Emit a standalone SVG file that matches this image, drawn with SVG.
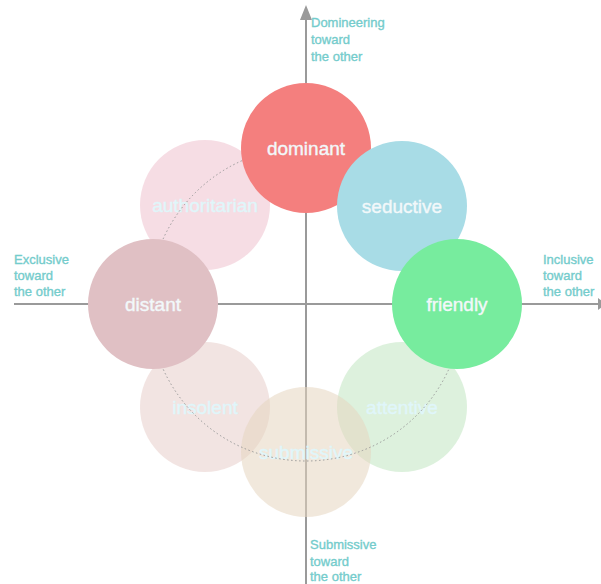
<svg xmlns="http://www.w3.org/2000/svg" width="601" height="584" viewBox="0 0 601 584">
<style>
.axis{stroke:#9a9a9a;stroke-width:2;fill:none}
.lbl{font-family:"Liberation Sans",Arial,sans-serif;font-size:13px;fill:#74cccc;stroke:#74cccc;stroke-width:0.35}
.node{font-family:"Liberation Sans",Arial,sans-serif;font-size:19px;text-anchor:middle;stroke-width:0.4}
.strong{fill:#f2f8fa;stroke:#f2f8fa}
.light{fill:#e0f6fa;stroke:#e0f6fa}
</style>
<rect width="601" height="584" fill="#ffffff"/>
<g id="connectors">
<line class="axis" x1="14" y1="304" x2="598" y2="304"/>
<polygon points="598,298 606,304 598,310" fill="#9a9a9a"/>
<line class="axis" x1="306" y1="18" x2="306" y2="584"/>
<polygon points="300,20 306,5 312,20" fill="#9a9a9a"/>
</g>
<g id="axis-labels">
<text class="lbl"><tspan x="311" y="27">Domineering</tspan><tspan x="311" y="44">toward</tspan><tspan x="311" y="61">the other</tspan></text>
<text class="lbl"><tspan x="14" y="264">Exclusive</tspan><tspan x="14" y="280">toward</tspan><tspan x="14" y="296">the other</tspan></text>
<text class="lbl"><tspan x="543" y="264">Inclusive</tspan><tspan x="543" y="280">toward</tspan><tspan x="543" y="296">the other</tspan></text>
<text class="lbl"><tspan x="310" y="549">Submissive</tspan><tspan x="310" y="566">toward</tspan><tspan x="310" y="581">the other</tspan></text>
</g>
<g id="authoritarian"><circle cx="205" cy="205" r="65" fill="#f2cfd8" fill-opacity="0.7"/><text class="node light" x="205" y="212">authoritarian</text></g>
<g id="insolent"><circle cx="205" cy="407" r="65" fill="#ead2cf" fill-opacity="0.6"/><text class="node light" x="205" y="414">insolent</text></g>
<g id="attentive"><circle cx="402" cy="407" r="65" fill="#c6e8c6" fill-opacity="0.6"/><text class="node light" x="402" y="414">attentive</text></g>
<g id="submissive"><circle cx="306" cy="452" r="65" fill="#e6d6bf" fill-opacity="0.55"/><text class="node light" x="306" y="459">submissive</text></g>
<g id="ring"><circle cx="306" cy="304" r="157" fill="none" stroke="#999999" stroke-width="1" stroke-dasharray="1.5,2.5"/></g>
<g id="distant"><circle cx="153" cy="304" r="65" fill="#e0c0c4"/><text class="node strong" x="153" y="311">distant</text></g>
<g id="dominant"><circle cx="306" cy="148" r="65" fill="#f47f7e"/><text class="node strong" x="306" y="155">dominant</text></g>
<g id="seductive"><circle cx="402" cy="206" r="65" fill="#a8dce6"/><text class="node strong" x="402" y="213">seductive</text></g>
<g id="friendly"><circle cx="457" cy="304" r="65" fill="#77ec9e"/><text class="node strong" x="457" y="311">friendly</text></g>
</svg>
